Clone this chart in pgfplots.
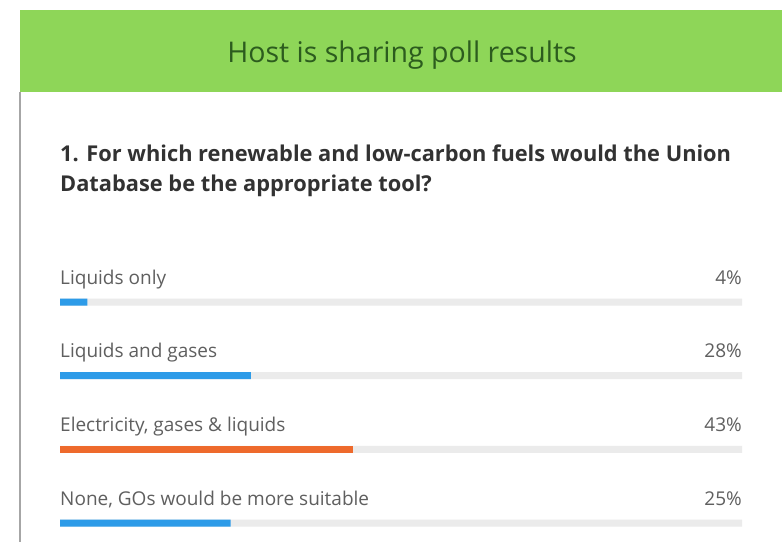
\documentclass[border=0pt]{standalone}
\usepackage{pgfplots}
\pgfplotsset{compat=1.18}
\usepackage{fontspec}
\setmainfont{Open Sans}
\definecolor{hdrgreen}{RGB}{142,214,88}
\definecolor{hdrtext}{RGB}{44,92,30}
\definecolor{barblue}{RGB}{45,155,232}
\definecolor{barorange}{RGB}{238,106,44}
\definecolor{track}{RGB}{235,235,235}
\definecolor{lbl}{RGB}{95,95,95}
\definecolor{qtext}{RGB}{50,50,50}
\begin{document}
\begin{tikzpicture}[x=1pt,y=1pt]
\useasboundingbox (0,0) rectangle (782,-542);
\fill[white] (0,0) rectangle (782,-542);
\fill[hdrgreen] (20,-10) rectangle (782,-92);
\draw[gray!70, line width=1.2pt] (20,-92) -- (20,-542);
\node[hdrtext, inner sep=0pt, anchor=base, font=\fontsize{28.5}{32}\selectfont] at (402,-62) {Host is sharing poll results};
\node[qtext, inner sep=0pt, anchor=base west, font=\fontsize{21.8}{30}\bfseries\selectfont] at (60,-161) {1. For which renewable and low-carbon fuels would the Union};
\node[qtext, inner sep=0pt, anchor=base west, font=\fontsize{21.8}{30}\bfseries\selectfont] at (60,-191) {Database be the appropriate tool?};
\begin{axis}[
  at={(60pt,-302pt)}, anchor=north west,
  scale only axis, width=682pt, height=221pt,
  xmin=0, xmax=100, ymin=0, ymax=3, y dir=reverse,
  hide axis, clip=false,
  xbar, bar width=7pt, bar shift=0pt,
]
\addplot[fill=track, draw=none] coordinates {(100,0) (100,1) (100,2) (100,3)};
\addplot[fill=barblue, draw=none] coordinates {(4,0) (28,1) (25,3)};
\addplot[fill=barorange, draw=none] coordinates {(43,2)};
\tikzset{lb/.style={lbl, inner sep=0pt, font=\fontsize{19}{20}\selectfont}}
\node[lb, anchor=base west] at (axis cs:0,0) [yshift=18pt] {Liquids only};
\node[lb, anchor=base west] at (axis cs:0,1) [yshift=18pt] {Liquids and gases};
\node[lb, anchor=base west] at (axis cs:0,2) [yshift=18pt] {Electricity, gases \& liquids};
\node[lb, anchor=base west] at (axis cs:0,3) [yshift=18pt] {None, GOs would be more suitable};
\node[lb, anchor=base east] at (axis cs:100,0) [yshift=18pt] {4\%};
\node[lb, anchor=base east] at (axis cs:100,1) [yshift=18pt] {28\%};
\node[lb, anchor=base east] at (axis cs:100,2) [yshift=18pt] {43\%};
\node[lb, anchor=base east] at (axis cs:100,3) [yshift=18pt] {25\%};
\end{axis}
\end{tikzpicture}
\end{document}
